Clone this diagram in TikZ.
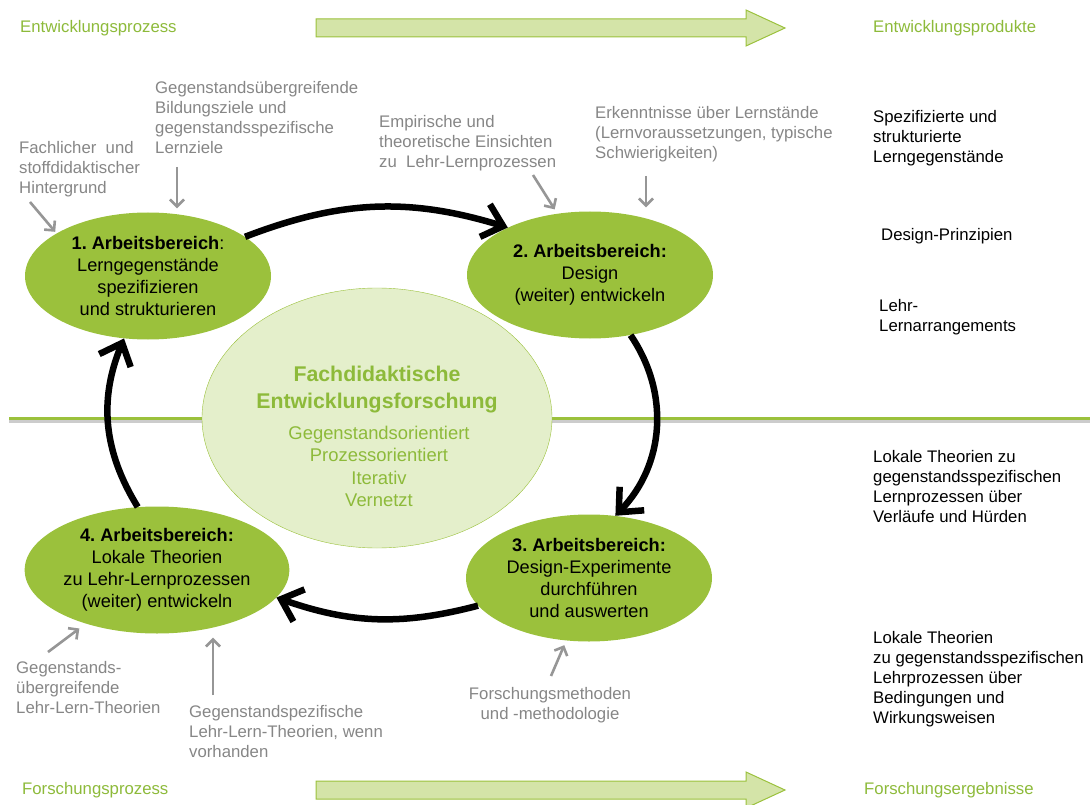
\documentclass[tikz,border=0pt]{standalone}
\usepackage{fontspec}
\setmainfont{Liberation Sans}
\usetikzlibrary{shapes.geometric,arrows.meta,positioning}
\definecolor{leaf}{RGB}{155,193,60}
\definecolor{leaftxt}{RGB}{141,186,58}
\definecolor{pale}{RGB}{228,239,203}
\definecolor{palearrow}{RGB}{212,228,168}
\definecolor{hintgray}{RGB}{134,134,134}
\definecolor{feedgray}{RGB}{150,150,150}
\frenchspacing

\begin{document}
\begin{tikzpicture}[x=1pt,y=-1pt,
  area/.style={ellipse,fill=leaf,minimum width=246pt,minimum height=127pt,
    inner sep=0pt,align=center,font=\fontsize{18.2}{22}\selectfont},
  hint/.style={align=left,anchor=west,inner sep=0pt,text=hintgray,
    font=\fontsize{16.75}{20}\selectfont},
  result/.style={hint,text=black},
  phase/.style={hint,text=leaftxt},
  pass/.style={line width=6.5pt,-{Straight Barb[length=19pt,width=34pt]}},
  feed/.style={draw=feedgray,line width=2.6pt,-{Straight Barb[length=7pt,width=14pt]}},
  flow/.style={fill=palearrow,draw=leaf,line width=1pt}]
 \useasboundingbox (0,0) rectangle (1090,805);

 % process arrows top and bottom
 \foreach \y in {28,790}
   \draw[flow] (316,\y-9) -- (746,\y-9) -- (746,\y-18) -- (785,\y)
     -- (746,\y+18) -- (746,\y+9) -- (316,\y+9) -- cycle;
 \node[phase] (ep) at (20,28) {Entwicklungsprozess};
 \node[phase] (eprod) at (873,28) {Entwicklungsprodukte};
 \node[phase] (fp) at (22,790) {Forschungsprozess};
 \node[phase] (ferg) at (864,790) {Forschungsergebnisse};

 % dividing line
 \draw[gray!40,line width=3pt] (9,421.5) -- (1090,421.5);
 \draw[leaf,line width=3pt] (9,418) -- (1090,418);

 \node[ellipse,draw=leaf,fill=pale,minimum width=350pt,minimum height=260pt] (fde) at (377,418) {};
 \node[align=center,text=leaftxt,font=\fontsize{21.3}{27}\selectfont\bfseries] (fdetitle) at (377,389.5)
   {Fachdidaktische\\Entwicklungsforschung};
 \node[align=center,text=leaftxt,font=\fontsize{18.4}{22.3}\selectfont] (fdelist) at (379,466.5)
   {Gegenstandsorientiert\\Prozessorientiert\\Iterativ\\Vernetzt};

 \node[area] (e1) at (148,276) {\textbf{1. Arbeitsbereich}:\\Lerngegenstände\\spezifizieren\\und strukturieren};
 \node[area] (e2) at (590,275) {\textbf{2. Arbeitsbereich:}\\Design\\(weiter) entwickeln};
 \node[area] (e3) at (589,578) {\textbf{3. Arbeitsbereich:}\\Design-Experimente\\durchführen\\und auswerten};
 \node[area] (e4) at (157,570) {\textbf{4. Arbeitsbereich:}\\Lokale Theorien\\zu Lehr-Lernprozessen\\(weiter) entwickeln};

 \draw[pass] (e1.22) to[bend left=19] (e2.150);
 \draw[pass] (e2.304) to[bend left=39] (e3.67);
 \draw[pass] (e3.194) to[bend left=17] (e4.347);
 \draw[pass] (e4.107) to[bend left=27] (e1.249);

 % inputs
 \node[hint] (bg) at (19,169) {Fachlicher~ und\\stoffdidaktischer\\Hintergrund};
 \node[hint] (ziele) at (155,118) {Gegenstandsübergreifende\\Bildungsziele und\\gegenstandsspezifische\\Lernziele};
 \node[hint] (einsicht) at (379,143) {Empirische und\\theoretische Einsichten\\zu~ Lehr-Lernprozessen};
 \node[hint] (stand) at (595,134) {Erkenntnisse über Lernstände\\(Lernvoraussetzungen, typische\\Schwierigkeiten)};
 \node[hint] (allg) at (16,688) {Gegenstands-\\übergreifende\\Lehr-Lern-Theorien};
 \node[hint] (spez) at (189,732) {Gegenstandspezifische\\Lehr-Lern-Theorien, wenn\\vorhanden};
 \node[hint,align=center,anchor=center] (meth) at (550,705) {Forschungsmethoden\\und -methodologie};

 \coordinate (h1) at (30,202);
 \coordinate (h2) at (177,167);
 \coordinate (h3) at (533,175);
 \coordinate (h4) at (646,176);
 \coordinate (h5) at (48,652);
 \coordinate (h6) at (213,695);
 \coordinate (h7) at (551,676);
 \draw[feed,shorten >=2pt] (h1) -- (e1.155);
 \draw[feed,shorten >=4pt] (h2) -- (h2 |- e1.north);
 \draw[feed,shorten >=5pt] (h3) -- (e2.118);
 \draw[feed,shorten >=4pt] (h4) -- (h4 |- e2.north);
 \draw[feed,shorten >=8pt] (h5) -- (e4.217);
 \draw[feed,shorten >=4pt] (h6) -- (h6 |- e4.south);
 \draw[feed,shorten >=5pt] (h7) -- (e3.250);

 % products and results
 \node[result] (lg) at (873,138) {Spezifizierte und\\strukturierte\\Lerngegenstände};
 \node[result] (dp) at (881,236) {Design-Prinzipien};
 \node[result] (la) at (879,317) {Lehr-\\Lernarrangements};
 \node[result] (ltl) at (873,487) {Lokale Theorien zu\\gegenstandsspezifischen\\Lernprozessen über\\Verläufe und Hürden};
 \node[result] (ltb) at (873,679) {Lokale Theorien\\zu gegenstandsspezifischen\\Lehrprozessen über\\Bedingungen und\\Wirkungsweisen};
\end{tikzpicture}
\end{document}
